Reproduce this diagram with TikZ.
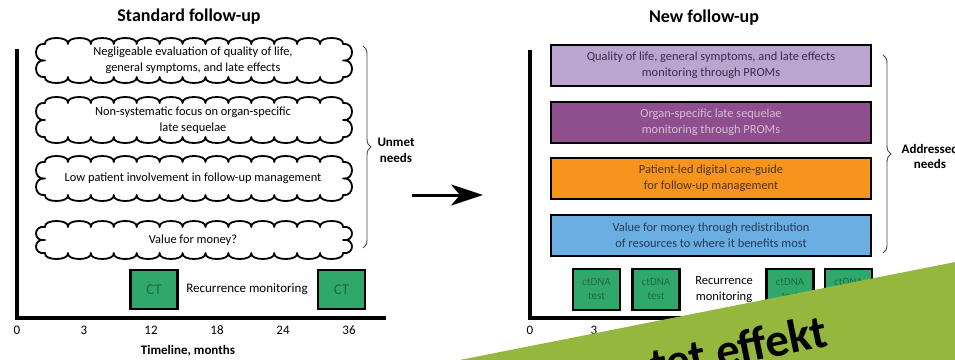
\documentclass[tikz,border=0pt]{standalone}
\usepackage{fontspec}
\setmainfont{Carlito}
\usetikzlibrary{decorations.pathreplacing,arrows.meta}

\definecolor{ctgreen}{HTML}{30A86C}
\definecolor{ctgreentext}{HTML}{1F6B42}
\definecolor{lavfill}{HTML}{BAA4D0}
\definecolor{lavtext}{HTML}{3A2E45}
\definecolor{plumfill}{HTML}{8F4E8D}
\definecolor{plumtext}{HTML}{D2BFD4}
\definecolor{orangefill}{HTML}{F7941E}
\definecolor{orangetext}{HTML}{4D3415}
\definecolor{bluefill}{HTML}{6BAEE2}
\definecolor{bluetext}{HTML}{243A55}
\definecolor{bannergreen}{HTML}{95B73D}
\definecolor{bracegray}{HTML}{444444}

\tikzset{
  titletext/.style={font=\bfseries\fontsize{18}{20}\selectfont},
  labeltext/.style={font=\fontsize{12.4}{16.5}\selectfont, align=center},
  boldlabel/.style={font=\bfseries\fontsize{13}{15.5}\selectfont, align=center},
  ticktext/.style={font=\fontsize{13}{15}\selectfont},
  cloudline/.style={line width=1.8pt, line join=round},
  needbox/.style={draw=black, line width=2.6pt, minimum width=320pt, minimum height=41pt,
                  inner sep=0pt, font=\fontsize{12.4}{16}\selectfont, align=center},
  testbox/.style={draw=black, line width=2.6pt, fill=ctgreen, text=ctgreentext,
                  minimum width=47pt, inner sep=0pt, align=center},
  axisline/.style={line width=3.5pt, line join=miter},
  needbrace/.style={draw=bracegray, line width=0.9pt, decorate,
                    decoration={brace, amplitude=8pt}},
}

% scalloped cloud outline: left x, top y, right x, bottom y, puffs along top/bottom
\newcommand{\puffcloud}[5]{%
  \pgfmathsetmacro{\puffw}{(#3-#1)/#5}%
  \pgfmathsetmacro{\puffh}{(#4-#2)/2}%
  \draw[cloudline, fill=white] (#1,#2)
    \foreach \k in {1,...,#5}{ .. controls +(-1.5,-8) and +(1.5,-8) .. ++(\puffw,0) }
    .. controls +(12,-2) and +(12,2) .. ++(0,\puffh)
    .. controls +(12,-2) and +(12,2) .. ++(0,\puffh)
    \foreach \k in {1,...,#5}{ .. controls +(1.5,8) and +(-1.5,8) .. ++(-\puffw,0) }
    .. controls +(-12,2) and +(-12,-2) .. ++(0,-\puffh)
    .. controls +(-12,2) and +(-12,-2) .. ++(0,-\puffh)
    -- cycle;%
}

\begin{document}
\begin{tikzpicture}[x=1pt, y=-1pt]
  \useasboundingbox (0,0) rectangle (955,359);
  \fill[white] (0,0) rectangle (955,359);

  % ---------------- standard follow-up ----------------
  \node[titletext] (stdtitle) at (189,17) {Standard follow-up};

  \coordinate (ltop) at (17,49);
  \coordinate (lorigin) at (17,318);
  \coordinate (lend) at (386,318);
  \draw[axisline] (ltop) -- (lorigin) -- (lend);

  \puffcloud{45}{44}{343}{77}{13}
  \node[labeltext] (u1) at (193,60.5) {Negligeable evaluation of quality of life,\\general symptoms, and late effects};
  \puffcloud{45}{103}{343}{137}{13}
  \node[labeltext] (u2) at (193,120) {Non-systematic focus on organ-specific\\late sequelae};
  \puffcloud{45}{162}{343}{195}{13}
  \node[labeltext] (u3) at (193,178.5) {Low patient involvement in follow-up management};
  \puffcloud{45}{227}{343}{253}{13}
  \node[labeltext] (u4) at (193,240) {Value for money?};

  \node[testbox, minimum height=39pt, font=\fontsize{15}{17}\selectfont] (ct1) at (154,289.5) {CT};
  \node[testbox, minimum height=39pt, font=\fontsize{15}{17}\selectfont] (ct2) at (341.5,289.5) {CT};
  \node[labeltext, font=\fontsize{13}{16}\selectfont] (lrec) at (247,289.5) {Recurrence monitoring};

  \node[ticktext] (l0) at (17,330) {0};
  \node[ticktext] (l3) at (84,330) {3};
  \node[ticktext] (l12) at (151,330) {12};
  \node[ticktext] (l18) at (217,330) {18};
  \node[ticktext] (l24) at (283,330) {24};
  \node[ticktext] (l36) at (349,330) {36};
  \node[boldlabel] (ltime) at (188,351) {Timeline, months};

  \coordinate (lbtop) at (363,46);
  \coordinate (lbbot) at (363,248);
  \draw[needbrace] (lbtop) -- (lbbot);
  \node[boldlabel] (unmet) at (396,150.5) {Unmet\\needs};

  % ---------------- transition arrow ----------------
  \coordinate (arrfrom) at (412,195);
  \coordinate (arrto) at (483,195);
  \draw[line width=3pt, -{Stealth[length=32pt, width=21pt, inset=9pt]}] (arrfrom) -- (arrto);

  % ---------------- new follow-up ----------------
  \node[titletext] (newtitle) at (704,18) {New follow-up};

  \coordinate (rtop) at (530,50);
  \coordinate (rorigin) at (530,318);
  \coordinate (rend) at (898,318);
  \draw[axisline] (rtop) -- (rorigin) -- (rend);

  \node[needbox, fill=lavfill, text=lavtext] (a1) at (711,65.5)
    {Quality of life, general symptoms, and late effects\\monitoring through PROMs};
  \node[needbox, fill=plumfill, text=plumtext] (a2) at (711,122.5)
    {Organ-specific late sequelae\\monitoring through PROMs};
  \node[needbox, fill=orangefill, text=orangetext] (a3) at (711,178.5)
    {Patient-led digital care-guide\\for follow-up management};
  \node[needbox, fill=bluefill, text=bluetext] (a4) at (711,235.5)
    {Value for money through redistribution\\of resources to where it benefits most};

  \node[testbox, minimum height=41pt, font=\fontsize{11}{14}\selectfont] (d1) at (596.5,289.5) {ctDNA\\test};
  \node[testbox, minimum height=41pt, font=\fontsize{11}{14}\selectfont] (d2) at (656,289.5) {ctDNA\\test};
  \node[testbox, minimum height=41pt, font=\fontsize{11}{14}\selectfont] (d3) at (790,289.5) {ctDNA\\test};
  \node[testbox, minimum height=41pt, font=\fontsize{11}{14}\selectfont] (d4) at (848.5,289.5) {ctDNA\\test};
  \node[labeltext, font=\fontsize{12.5}{16}\selectfont] (rrec) at (724,290) {Recurrence\\monitoring};

  \node[ticktext] (r0) at (530,330) {0};
  \node[ticktext] (r3) at (594,330) {3};

  \coordinate (rbtop) at (883,55);
  \coordinate (rbbot) at (883,253);
  \draw[needbrace] (rbtop) -- (rbbot);
  \node[boldlabel] (addressed) at (930,156.5) {Addressed\\needs};

  % ---------------- corner banner ----------------
  \begin{scope}
    \clip (0,0) rectangle (955,359);
    \fill[bannergreen] (450,361.9) -- (965,260.1) -- (965,380) -- (450,380) -- cycle;
    \node[rotate=11.5, anchor=base east, inner sep=0pt,
          font=\bfseries\fontsize{47}{47}\selectfont] (banner) at (830,346) {Forventet effekt};
  \end{scope}
\end{tikzpicture}
\end{document}
